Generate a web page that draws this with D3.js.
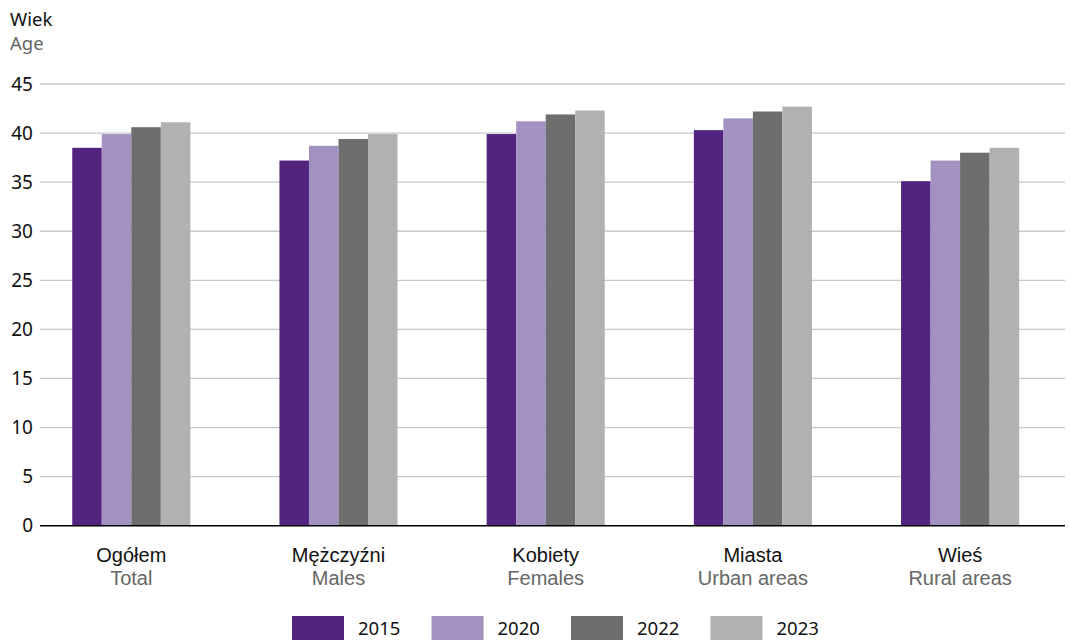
<!DOCTYPE html>
<html>
<head>
<meta charset="utf-8">
<script src="https://cdn.jsdelivr.net/npm/d3@7"></script>
<style>
  html, body { margin: 0; padding: 0; background: #fff; }
  svg { display: block; font-family: "Noto Sans", "Open Sans", sans-serif; }
</style>
</head>
<body>
<svg id="chart" width="1070" height="640"></svg>
<script>
const categoriesPL = ["Ogółem", "Mężczyźni", "Kobiety", "Miasta", "Wieś"];
const categoriesEN = ["Total", "Males", "Females", "Urban areas", "Rural areas"];
const years = ["2015", "2020", "2022", "2023"];
const values2015 = [38.5, 37.2, 39.9, 40.3, 35.1];
const values2020 = [39.9, 38.7, 41.2, 41.5, 37.2];
const values2022 = [40.6, 39.4, 41.9, 42.2, 38.0];
const values2023 = [41.1, 39.9, 42.3, 42.7, 38.5];
const yTicks = [0, 5, 10, 15, 20, 25, 30, 35, 40, 45];
const colors = ["#522480", "#a391c2", "#6e6e6e", "#b1b1b1"];

const series = [values2015, values2020, values2022, values2023];
const svg = d3.select("#chart");

const y = d3.scaleLinear().domain([0, 45]).range([525.7, 84]);
const x0 = d3.scaleBand().domain(categoriesPL).range([27.7, 1063.7])
  .paddingInner(0.43).paddingOuter(0.215);
const x1 = d3.scaleBand().domain(years).range([0, x0.bandwidth()]).padding(0);

// Axis titles
svg.append("text").attr("x", 10).attr("y", 26).attr("font-size", 18.5)
  .attr("fill", "#111").text("Wiek");
svg.append("text").attr("x", 10).attr("y", 50).attr("font-size", 18.5)
  .attr("fill", "#666").text("Age");

// Y axis with gridlines
const yAxis = d3.axisLeft(y).tickValues(yTicks).tickSize(0).tickPadding(0);
const gY = svg.append("g").attr("transform", "translate(33,0)").call(yAxis);
gY.select(".domain").remove();
gY.selectAll("text").attr("font-size", 19).attr("fill", "#111")
  .attr("font-family", "'Noto Sans', sans-serif").attr("x", 0);

svg.append("g").selectAll("line").data(yTicks.filter(d => d > 0)).join("line")
  .attr("x1", 40).attr("x2", 1065)
  .attr("y1", d => y(d)).attr("y2", d => y(d))
  .attr("stroke", "#c8c8c8").attr("stroke-width", 1.3);

// Bars
const groups = svg.append("g").selectAll("g").data(categoriesPL).join("g")
  .attr("transform", d => `translate(${x0(d)},0)`);
groups.selectAll("rect")
  .data((d, i) => years.map((yr, j) => ({ yr, v: series[j][i], c: colors[j] })))
  .join("rect")
  .attr("x", d => x1(d.yr))
  .attr("width", x1.bandwidth())
  .attr("y", d => y(d.v))
  .attr("height", d => y(0) - y(d.v))
  .attr("fill", d => d.c);

// Zero line
svg.append("line").attr("x1", 40).attr("x2", 1065)
  .attr("y1", y(0)).attr("y2", y(0)).attr("stroke", "#000").attr("stroke-width", 1.5);

// Category labels
const xAxis = d3.axisBottom(x0).tickSize(0).tickPadding(0);
const gX = svg.append("g").attr("transform", `translate(0,${y(0)})`).call(xAxis);
gX.select(".domain").remove();
gX.selectAll(".tick text").remove();
gX.selectAll(".tick").each(function(d, i) {
  const t = d3.select(this);
  t.append("text").attr("y", 36).attr("text-anchor", "middle")
    .attr("font-size", 20).attr("fill", "#111").text(d);
  t.append("text").attr("y", 59).attr("text-anchor", "middle")
    .attr("font-size", 20).attr("fill", "#666").text(categoriesEN[i]);
});

// Legend
const legendX = d3.scaleBand().domain(years).range([292, 850]).padding(0);
const lg = svg.append("g").selectAll("g").data(years).join("g")
  .attr("transform", d => `translate(${legendX(d)},616)`);
lg.append("rect").attr("width", 52).attr("height", 24)
  .attr("fill", (d, i) => colors[i]);
lg.append("text").attr("x", 66).attr("y", 19).attr("font-size", 18.5)
  .attr("fill", "#111").text(d => d);
</script>
</body>
</html>
